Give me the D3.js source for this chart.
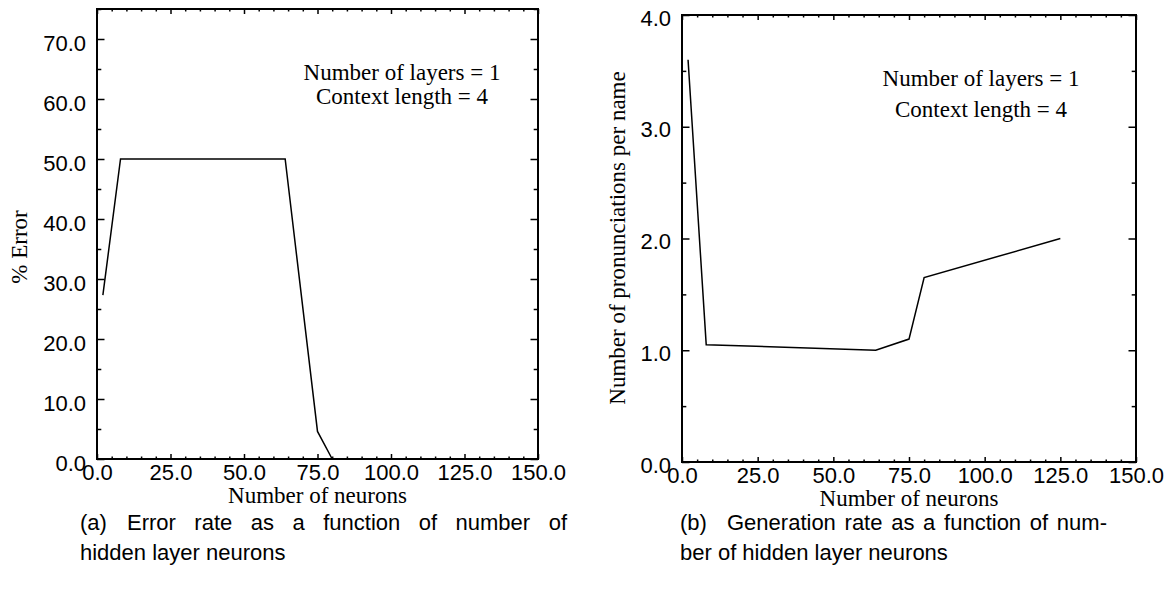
<!DOCTYPE html>
<html lang="en">
<head>
  <meta charset="utf-8">
  <title>Hidden layer neurons</title>
  <script src="https://d3js.org/d3.v7.min.js"></script>
  <style>
    body { margin: 0; background: #fff; }
    .tick text { font-family: "Liberation Sans", Arial, sans-serif; font-size: 22px; fill: #000; }
    .serif { font-family: "Liberation Serif", "Times New Roman", serif; font-size: 23px; fill: #000; }
    .caption { font-family: "Liberation Sans", Arial, sans-serif; font-size: 22px; fill: #000; }
  </style>
</head>
<body>
  <svg id="fig" width="1174" height="596"></svg>
  <script>
    // data
    var neurons = [2, 8, 64, 75, 80];
    var errorRate = [27.3, 50, 50, 4.6, 0];

    var neuronsB = [2, 8, 64, 75, 80, 125];
    var pronunciations = [3.6, 1.05, 1.0, 1.1, 1.65, 2.0];

    var xTicks = [0, 25, 50, 75, 100, 125, 150];
    var yTicksA = [0, 10, 20, 30, 40, 50, 60, 70];
    var yTicksB = [0, 1, 2, 3, 4];

    var note = ["Number of layers = 1", "Context length = 4"];

    var svg = d3.select("#fig");

    function drawPanel(opt) {
      var w = opt.right - opt.left, h = opt.bottom - opt.top;
      var g = svg.append("g").attr("transform", "translate(" + opt.left + "," + opt.top + ")");

      var x = d3.scaleLinear().domain([0, 150]).range([0, w]);
      var y = d3.scaleLinear().domain(opt.yDomain).range([h, 0]);

      var xMinor = d3.range(0, 151, 5).filter(function (v) { return v % 25 !== 0; });
      var yMinor = d3.range(opt.yDomain[0], opt.yDomain[1] + 1e-9, opt.yMinorStep)
        .filter(function (v) { return opt.yTicks.indexOf(+v.toFixed(3)) < 0; });

      // minor ticks, all four sides
      g.append("g").attr("transform", "translate(0," + h + ")")
        .call(d3.axisBottom(x).tickValues(xMinor).tickSize(-2.5).tickFormat(""));
      g.append("g")
        .call(d3.axisTop(x).tickValues(xMinor).tickSize(-2.5).tickFormat(""));
      g.append("g")
        .call(d3.axisLeft(y).tickValues(yMinor).tickSize(-4.3).tickFormat(""));
      g.append("g").attr("transform", "translate(" + w + ",0)")
        .call(d3.axisRight(y).tickValues(yMinor).tickSize(-4.3).tickFormat(""));

      // major ticks
      g.append("g").attr("transform", "translate(0," + h + ")")
        .call(d3.axisBottom(x).tickValues(xTicks).tickSize(-5).tickPadding(5)
          .tickFormat(function (d) { return d3.format(".1f")(d); }));
      g.append("g")
        .call(d3.axisTop(x).tickValues(xTicks).tickSize(-5).tickFormat(""));
      g.append("g")
        .call(d3.axisLeft(y).tickValues(opt.yTicks).tickSize(-7.5).tickPadding(11)
          .tickFormat(function (d) { return d3.format(".1f")(d); }))
        .selectAll("text").attr("dy", "0.32em").attr("y", opt.yLabelShift);
      g.append("g").attr("transform", "translate(" + w + ",0)")
        .call(d3.axisRight(y).tickValues(opt.yTicks).tickSize(-7.5).tickFormat(""));

      g.selectAll(".domain").remove();
      g.selectAll(".tick line").attr("stroke", "#000").attr("stroke-width", 1.5);

      // frame
      g.append("rect").attr("width", w).attr("height", h)
        .attr("fill", "none").attr("stroke", "#000").attr("stroke-width", 2);

      // data line
      var pts = opt.xs.map(function (v, i) { return [v, opt.ys[i]]; });
      g.append("path")
        .attr("fill", "none").attr("stroke", "#000").attr("stroke-width", 1.5)
        .attr("d", d3.line().x(function (d) { return x(d[0]); }).y(function (d) { return y(d[1]); })(pts));

      // axis titles
      g.append("text").attr("class", "serif").attr("text-anchor", "middle")
        .attr("x", w / 2).attr("y", h + 44).text("Number of neurons");
      g.append("text").attr("class", "serif").attr("text-anchor", "middle")
        .attr("transform", "translate(" + (opt.yTitleX - opt.left) + "," + (opt.yTitleY - opt.top) + ") rotate(-90)")
        .text(opt.yTitle);

      // annotation
      g.append("g").selectAll("text").data(note).enter().append("text")
        .attr("class", "serif").attr("text-anchor", "middle")
        .attr("x", opt.noteX - opt.left)
        .attr("y", function (d, i) { return opt.noteY - opt.top + i * opt.noteGap; })
        .text(function (d) { return d; });

      // caption: label, then first line justified to the measured right edge
      var cap = svg.append("g");
      cap.append("text").attr("class", "caption")
        .attr("x", opt.capX).attr("y", opt.capY).text(opt.capLabel);
      opt.caption.forEach(function (line, i) {
        var t = cap.append("text").attr("class", "caption")
          .attr("x", i === 0 ? opt.capTextX : opt.capX).attr("y", opt.capY + i * 30)
          .text(line);
        if (i === 0) {
          var len = t.node().getComputedTextLength();
          var spaces = line.split(" ").length - 1;
          t.attr("word-spacing", Math.max(0, (opt.capRight - opt.capTextX - len) / spaces));
        }
      });
    }

    drawPanel({
      left: 97, right: 538, top: 9, bottom: 459,
      yDomain: [0, 75], yTicks: yTicksA, yMinorStep: 5, yLabelShift: 4.5,
      xs: neurons, ys: errorRate,
      yTitle: "% Error", yTitleX: 27, yTitleY: 247,
      noteX: 402, noteY: 80, noteGap: 24,
      capLabel: "(a)",
      caption: ["Error rate as a function of number of", "hidden layer neurons"],
      capX: 80, capTextX: 127, capY: 530, capRight: 567
    });

    drawPanel({
      left: 682, right: 1136, top: 15, bottom: 462,
      yDomain: [0, 4], yTicks: yTicksB, yMinorStep: 0.5, yLabelShift: 3,
      xs: neuronsB, ys: pronunciations,
      yTitle: "Number of pronunciations per name", yTitleX: 625, yTitleY: 238,
      noteX: 981, noteY: 86, noteGap: 31,
      capLabel: "(b)",
      caption: ["Generation rate as a function of num-", "ber of hidden layer neurons"],
      capX: 680, capTextX: 727, capY: 530, capRight: 1107
    });
  </script>
</body>
</html>
